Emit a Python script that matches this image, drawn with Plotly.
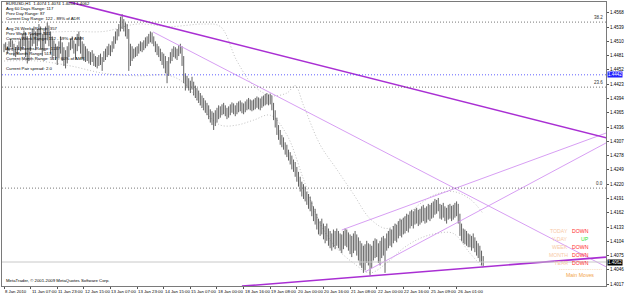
import plotly.graph_objects as go

# ---------------- data (EURUSD H1) ----------------
HIGH = [
1.4505,1.4508,1.4500,1.4510,1.4515,1.4512,1.4505,1.4498,1.4502,1.4510,
1.4515,1.4525,1.4532,1.4528,1.4520,1.4512,1.4525,1.4535,1.4540,1.4530,
1.4535,1.4545,1.4540,1.4525,1.4530,1.4540,1.4548,1.4542,1.4530,1.4520,
1.4512,1.4505,1.4500,1.4510,1.4520,1.4508,1.4498,1.4492,1.4500,1.4508,
1.4515,1.4520,1.4512,1.4505,1.4525,1.4530,1.4520,1.4510,1.4505,1.4500,
1.4495,1.4490,1.4488,1.4492,1.4485,1.4480,1.4478,1.4482,1.4485,1.4478,
1.4490,1.4495,1.4500,1.4505,1.4502,1.4510,1.4520,1.4530,1.4535,1.4545,
1.4560,1.4565,1.4555,1.4548,1.4545,1.4535,1.4505,1.4500,1.4495,1.4498,
1.4500,1.4505,1.4510,1.4508,1.4512,1.4518,1.4520,1.4525,1.4530,1.4528,
1.4520,1.4510,1.4505,1.4500,1.4495,1.4488,1.4485,1.4480,1.4470,1.4478,
1.4488,1.4495,1.4500,1.4498,1.4495,1.4502,1.4505,1.4500,1.4480,1.4445,
1.4440,1.4435,1.4430,1.4438,1.4428,1.4420,1.4415,1.4410,1.4405,1.4400,
1.4395,1.4390,1.4385,1.4380,1.4372,1.4368,1.4365,1.4370,1.4375,1.4380,
1.4378,1.4382,1.4385,1.4380,1.4375,1.4378,1.4382,1.4386,1.4384,1.4380,
1.4385,1.4388,1.4390,1.4386,1.4384,1.4388,1.4392,1.4395,1.4392,1.4390,
1.4392,1.4395,1.4398,1.4396,1.4394,1.4398,1.4400,1.4403,1.4405,1.4402,
1.4404,1.4400,1.4385,1.4370,1.4355,1.4340,1.4330,1.4320,1.4315,1.4305,
1.4300,1.4290,1.4285,1.4278,1.4270,1.4265,1.4255,1.4245,1.4235,1.4225,
1.4220,1.4215,1.4205,1.4200,1.4195,1.4185,1.4175,1.4170,1.4160,1.4150,
1.4145,1.4150,1.4140,1.4135,1.4140,1.4130,1.4125,1.4120,1.4128,1.4125,
1.4130,1.4125,1.4120,1.4118,1.4125,1.4130,1.4128,1.4122,1.4118,1.4115,
1.4120,1.4125,1.4118,1.4112,1.4105,1.4100,1.4095,1.4098,1.4105,1.4100,
1.4098,1.4095,1.4105,1.4110,1.4108,1.4100,1.4105,1.4112,1.4115,1.4110,
1.4120,1.4125,1.4130,1.4128,1.4135,1.4140,1.4138,1.4145,1.4150,1.4148,
1.4152,1.4155,1.4160,1.4158,1.4165,1.4168,1.4165,1.4170,1.4172,1.4168,
1.4170,1.4175,1.4178,1.4172,1.4175,1.4180,1.4178,1.4182,1.4185,1.4190,
1.4188,1.4192,1.4180,1.4178,1.4182,1.4175,1.4172,1.4178,1.4180,1.4176,
1.4178,1.4182,1.4185,1.4180,1.4160,1.4140,1.4130,1.4128,1.4125,1.4120,
1.4118,1.4115,1.4120,1.4112,1.4105,1.4100,1.4095,1.4085,1.4074,
]
LOW = [
1.4488,1.4492,1.4485,1.4490,1.4498,1.4494,1.4480,1.4478,1.4484,1.4492,
1.4490,1.4495,1.4500,1.4478,1.4465,1.4470,1.4490,1.4500,1.4505,1.4492,
1.4500,1.4510,1.4495,1.4480,1.4490,1.4505,1.4512,1.4500,1.4485,1.4475,
1.4480,1.4472,1.4462,1.4475,1.4485,1.4470,1.4460,1.4455,1.4465,1.4478,
1.4492,1.4495,1.4485,1.4475,1.4490,1.4500,1.4485,1.4475,1.4470,1.4468,
1.4470,1.4465,1.4462,1.4468,1.4460,1.4458,1.4455,1.4460,1.4462,1.4450,
1.4468,1.4472,1.4478,1.4482,1.4480,1.4488,1.4495,1.4505,1.4512,1.4520,
1.4530,1.4535,1.4530,1.4520,1.4515,1.4450,1.4460,1.4470,1.4475,1.4478,
1.4480,1.4485,1.4490,1.4488,1.4492,1.4496,1.4500,1.4505,1.4508,1.4505,
1.4500,1.4488,1.4482,1.4478,1.4470,1.4462,1.4455,1.4445,1.4425,1.4440,
1.4465,1.4470,1.4478,1.4475,1.4472,1.4480,1.4485,1.4460,1.4425,1.4410,
1.4415,1.4410,1.4405,1.4412,1.4400,1.4395,1.4390,1.4385,1.4380,1.4375,
1.4370,1.4365,1.4360,1.4352,1.4345,1.4340,1.4330,1.4338,1.4345,1.4352,
1.4355,1.4360,1.4362,1.4358,1.4352,1.4355,1.4360,1.4365,1.4362,1.4358,
1.4362,1.4366,1.4368,1.4364,1.4362,1.4366,1.4370,1.4372,1.4370,1.4368,
1.4370,1.4372,1.4375,1.4372,1.4370,1.4375,1.4378,1.4380,1.4382,1.4380,
1.4382,1.4370,1.4350,1.4335,1.4320,1.4310,1.4300,1.4295,1.4290,1.4280,
1.4275,1.4268,1.4260,1.4250,1.4245,1.4235,1.4225,1.4215,1.4205,1.4195,
1.4190,1.4185,1.4178,1.4170,1.4165,1.4155,1.4145,1.4138,1.4128,1.4118,
1.4115,1.4118,1.4108,1.4100,1.4105,1.4095,1.4090,1.4085,1.4092,1.4088,
1.4095,1.4090,1.4085,1.4080,1.4088,1.4095,1.4092,1.4085,1.4078,1.4072,
1.4080,1.4085,1.4075,1.4065,1.4055,1.4050,1.4040,1.4045,1.4060,1.4055,
1.4035,1.4050,1.4065,1.4070,1.4072,1.4060,1.4055,1.4070,1.4075,1.4040,
1.4085,1.4090,1.4095,1.4092,1.4100,1.4105,1.4102,1.4110,1.4115,1.4112,
1.4118,1.4120,1.4125,1.4122,1.4130,1.4135,1.4130,1.4138,1.4140,1.4135,
1.4138,1.4142,1.4145,1.4140,1.4142,1.4148,1.4145,1.4150,1.4152,1.4158,
1.4160,1.4165,1.4150,1.4148,1.4152,1.4145,1.4140,1.4148,1.4150,1.4145,
1.4148,1.4152,1.4155,1.4140,1.4115,1.4105,1.4100,1.4098,1.4095,1.4092,
1.4092,1.4085,1.4090,1.4082,1.4075,1.4070,1.4062,1.4055,1.4054,
]

# Dotted envelope (bands): bar index, price
BAND_UP_X = [0, 20, 40, 60, 80, 100, 120, 130, 140, 150, 160, 170, 175, 180, 190, 200, 210, 220, 230, 240, 250, 260, 270, 280, 288]
BAND_UP_Y = [1.4500, 1.4525, 1.4530, 1.4530, 1.4545, 1.4540, 1.4545, 1.4540, 1.4470, 1.4420, 1.4400, 1.4405, 1.4420, 1.4380, 1.4300, 1.4250, 1.4200, 1.4150, 1.4130, 1.4150, 1.4180, 1.4200, 1.4205, 1.4190, 1.4160]
BAND_LO_X = [0, 20, 40, 60, 80, 100, 110, 120, 130, 140, 150, 160, 170, 180, 190, 200, 210, 220, 230, 240, 250, 260, 270, 280, 288]
BAND_LO_Y = [1.4470, 1.4470, 1.4460, 1.4445, 1.4440, 1.4440, 1.4420, 1.4370, 1.4340, 1.4340, 1.4350, 1.4360, 1.4320, 1.4230, 1.4140, 1.4090, 1.4060, 1.4040, 1.4060, 1.4090, 1.4110, 1.4120, 1.4120, 1.4080, 1.4050]

# Trendlines: (bar index, price) endpoints
TL_THICK = [((39, 1.4590), (362, 1.4314)), ((143, 1.4013), (362, 1.4072))]
TL_THIN = [((89.6, 1.4529), (362, 1.4052)), ((203, 1.4127), (362, 1.4324)), ((217, 1.4042), (362, 1.4304))]

# Horizontal levels
FIB_LEVELS = [(1.4549, "38.2"), (1.4417, "23.6"), (1.4212, "0.0")]
BLUE_LEVEL = 1.4442
BID = 1.4062

X_TICK_IDX = [0, 16, 32, 48, 64, 80, 96, 112, 128, 144, 160, 176, 192, 208, 224, 240, 256, 272]
X_TICK_TXT = ["8 Jan 2010", "11 Jan 07:00", "11 Jan 23:00", "12 Jan 15:00", "13 Jan 07:00", "13 Jan 23:00",
              "14 Jan 15:00", "15 Jan 07:00", "18 Jan 00:00", "18 Jan 16:00", "19 Jan 08:00", "20 Jan 00:00",
              "20 Jan 16:00", "21 Jan 08:00", "22 Jan 00:00", "22 Jan 16:00", "25 Jan 09:00", "26 Jan 01:00"]
Y_TICKS = [1.4017, 1.4046, 1.4075, 1.4104, 1.4133, 1.4162, 1.4191, 1.4220, 1.4249, 1.4278,
           1.4307, 1.4336, 1.4365, 1.4394, 1.4423, 1.4452, 1.4481, 1.4510, 1.4539, 1.4568]

INFO_LINES = [
    ("EURUSD,H1  1.4074 1.4074 1.4054 1.4062", 0),
    ("Avg 60 Days Range: 117", 1),
    ("Prev Day Range: 87", 2),
    ("Current Day Range: 122 - 89% of ADR", 3),
    ("Avg 26 Weeks Range: 357", 5),
    ("Prev Week Range: 341", 6),
    ("Current Week Range: 152 - 59% of AWR", 7),
    ("Avg 24 Months Range: 1137", 9),
    ("Prev Month Range: 513", 10),
    ("Current Month Range: 547 - 60% of AMR", 11),
    ("Current Pair spread: 2.0", 13),
]
TREND_ROWS = [("TODAY", "DOWN"), ("Y-DAY", "UP"), ("WEEK", "DOWN"), ("MONTH", "DOWN"), ("YEAR", "DOWN")]

FONT = "Liberation Sans"
fig = go.Figure()

# dotted envelopes
for bxs, bys in ((BAND_UP_X, BAND_UP_Y), (BAND_LO_X, BAND_LO_Y)):
    fig.add_trace(go.Scatter(x=bxs, y=bys, mode="lines",
                             line=dict(color="#b2b2b2", width=0.8, dash="1px,2px", shape="spline"),
                             hoverinfo="skip"))

# horizontal levels
for lvl, _ in FIB_LEVELS:
    fig.add_hline(y=lvl, line=dict(color="#555555", width=0.8, dash="1px,2px"))
fig.add_hline(y=BLUE_LEVEL, line=dict(color="#3a3aff", width=0.8, dash="1px,2px"))
fig.add_hline(y=BID, line=dict(color="#c8c8c8", width=1))

# HL bars
bx, by = [], []
for i, (h, l) in enumerate(zip(HIGH, LOW)):
    bx += [i, i, None]
    by += [l, h, None]
fig.add_trace(go.Scatter(x=bx, y=by, mode="lines", line=dict(color="#3a3a3a", width=0.8), hoverinfo="skip"))

# trendlines
for (a, b) in TL_THIN:
    fig.add_trace(go.Scatter(x=[a[0], b[0]], y=[a[1], b[1]], mode="lines",
                             line=dict(color="#d393f2", width=0.9), hoverinfo="skip"))
for (a, b) in TL_THICK:
    fig.add_trace(go.Scatter(x=[a[0], b[0]], y=[a[1], b[1]], mode="lines",
                             line=dict(color="#a92fd3", width=1.6), hoverinfo="skip"))

ann = []
# fib labels
for lvl, txt in FIB_LEVELS:
    ann.append(dict(x=1, xref="paper", y=lvl, yref="y", text=txt, showarrow=False,
                    xanchor="right", yanchor="bottom", xshift=-1,
                    font=dict(family=FONT, size=4.5, color="#303030")))
# price labels on axis
ann.append(dict(x=1, xref="paper", y=BLUE_LEVEL, yref="y", text=f"{BLUE_LEVEL:.4f}", showarrow=False,
                xanchor="left", yanchor="middle", xshift=1, bgcolor="#2020ff",
                font=dict(family=FONT, size=4.5, color="white"), borderpad=0))
ann.append(dict(x=1, xref="paper", y=BID, yref="y", text=f"{BID:.4f}", showarrow=False,
                xanchor="left", yanchor="middle", xshift=1, bgcolor="#000000",
                font=dict(family=FONT, size=4.5, color="white"), borderpad=0))
# x labels
for xi, t in zip(X_TICK_IDX, X_TICK_TXT):
    ann.append(dict(x=xi, xref="x", y=0, yref="paper", text=t, showarrow=False,
                    xanchor="left", yanchor="top", yshift=-1, xshift=-1,
                    font=dict(family=FONT, size=4.3, color="#000000")))
# info text
for txt, row in INFO_LINES:
    ann.append(dict(x=0, xref="paper", y=1, yref="paper", text=txt, showarrow=False,
                    xanchor="left", yanchor="middle", xshift=2, yshift=-1.5 - row * 5,
                    font=dict(family=FONT, size=4.3, color="#000000")))
ann.append(dict(x=0, xref="paper", y=0, yref="paper", text="MetaTrader, © 2001-2009 MetaQuotes Software Corp.",
                showarrow=False, xanchor="left", yanchor="bottom", xshift=2, yshift=1,
                font=dict(family=FONT, size=4.3, color="#000000")))
# trend block
for k, (lab, val) in enumerate(TREND_ROWS):
    ann.append(dict(x=0.941, xref="paper", y=0, yref="paper", text=lab, showarrow=False,
                    xanchor="right", yanchor="middle", yshift=55 - k * 8,
                    font=dict(family=FONT, size=5.2, color="#f7c9a6")))
    ann.append(dict(x=0.975, xref="paper", y=0, yref="paper", text=val, showarrow=False,
                    xanchor="right", yanchor="middle", yshift=55 - k * 8,
                    font=dict(family=FONT, size=5.2, color="#ff2a2a" if val == "DOWN" else "#2ee62e")))
ann.append(dict(x=0.957, xref="paper", y=0, yref="paper", text="Main Moves", showarrow=False,
                xanchor="center", yanchor="middle", yshift=11,
                font=dict(family=FONT, size=5.2, color="#f2a54a")))
ann.append(dict(x=0.957, xref="paper", y=0, yref="paper", text="·························", showarrow=False,
                xanchor="center", yanchor="middle", yshift=17,
                font=dict(family=FONT, size=5.2, color="#f2a54a")))

fig.update_layout(
    width=625, height=294,
    margin=dict(l=1, r=16, t=2, b=8),
    paper_bgcolor="white", plot_bgcolor="white",
    showlegend=False, annotations=ann,
    xaxis=dict(range=[-1.2, 361.8], showgrid=False, zeroline=False, showline=True, mirror=True,
               linecolor="#7a7a7a", linewidth=1, tickvals=X_TICK_IDX, ticks="outside", ticklen=2,
               tickcolor="#555", showticklabels=False),
    yaxis=dict(range=[1.40133, 1.45898], side="right", showgrid=False, zeroline=False, showline=True,
               mirror=True, linecolor="#7a7a7a", linewidth=1, tickvals=Y_TICKS,
               ticktext=[f"{v:.4f}" for v in Y_TICKS], ticks="outside", ticklen=2, tickcolor="#555",
               tickfont=dict(family=FONT, size=4.5, color="#000")),
)
fig.write_html("out.html")
